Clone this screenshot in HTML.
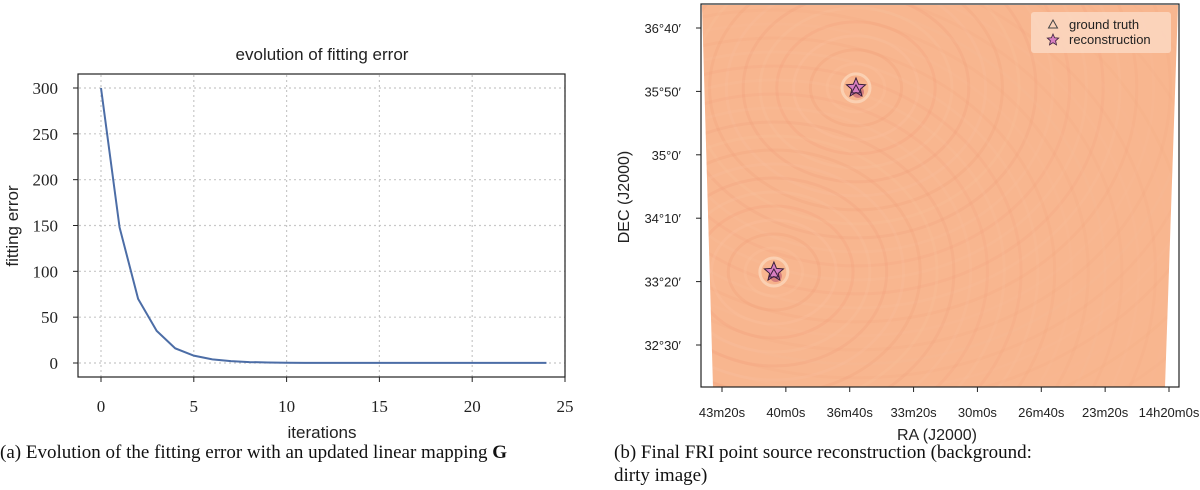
<!DOCTYPE html>
<html><head><meta charset="utf-8"><style>
html,body{margin:0;padding:0;background:#fff;overflow:hidden;width:1200px;height:490px;}
svg{display:block;}
</style></head><body>
<svg width="1200" height="490" xmlns="http://www.w3.org/2000/svg">
<defs>
<clipPath id="imgclip"><polygon points="702,5 1178,5 1165,387 713,387"/></clipPath>
</defs>
<g id="left"></g>
<g id="right"></g>
<text x="0" y="458" font-family="Liberation Serif, serif" font-size="19" fill="#111">(a) Evolution of the fitting error with an updated linear mapping <tspan font-weight="bold">G</tspan></text>
<text x="614" y="458" font-family="Liberation Serif, serif" font-size="19" fill="#111">(b) Final FRI point source reconstruction (background:</text>
<text x="614" y="481" font-family="Liberation Serif, serif" font-size="19" fill="#111">dirty image)</text>
</svg>
<script>
const NS='http://www.w3.org/2000/svg';
const iterations=[0,1,2,3,4,5,6,7,8,9,10,11,12,13,14,15,16,17,18,19,20,21,22,23,24];
const fitErr=[300,148,70,35,16,8,4,2,1,0.6,0.3,0.2,0.1,0.1,0.1,0.1,0.1,0.1,0.1,0.1,0.1,0.1,0.1,0.1,0.1];
const xTicks=[0,5,10,15,20,25];
const yTicks=[0,50,100,150,200,250,300];
const decTicks=["36°40′","35°50′","35°0′","34°10′","33°20′","32°30′"];
const raTicks=["43m20s","40m0s","36m40s","33m20s","30m0s","26m40s","23m20s","14h20m0s"];
const truthPts=[[0.3235,0.217],[0.151,0.699]];
const reconPts=[[0.3235,0.217],[0.151,0.699]];

function el(t,a,p){const e=document.createElementNS(NS,t);for(const k in a)e.setAttribute(k,a[k]);p.appendChild(e);return e;}
const L=document.getElementById('left');
const xs=v=>101+v*(565-101)/25;
const ys=v=>363-v*(363-88)/300;
for(const t of xTicks){const g=el('line',{x1:xs(t),x2:xs(t),y1:75,y2:377,stroke:'#c8c8c8','stroke-width':1.2,'stroke-dasharray':'2,3'},L);
}
for(const t of yTicks){const g=el('line',{x1:79,x2:565,y1:ys(t),y2:ys(t),stroke:'#c8c8c8','stroke-width':1.2,'stroke-dasharray':'2,3'},L);
}
const fr=el('rect',{x:78,y:74,width:487,height:303,fill:'none',stroke:'#222','stroke-width':1.2},L);

for(const t of xTicks){
const k=el('line',{x1:xs(t),x2:xs(t),y1:377,y2:382,stroke:'#222'},L);
const tx=el('text',{x:xs(t),y:412,'text-anchor':'middle','font-family':'Liberation Serif, serif','font-size':17,fill:'#222'},L);tx.textContent=t;
}
for(const t of yTicks){
const k=el('line',{x1:73,x2:78,y1:ys(t),y2:ys(t),stroke:'#222'},L);
const tx=el('text',{x:58,y:ys(t)+6,'text-anchor':'end','font-family':'Liberation Serif, serif','font-size':17,fill:'#222'},L);tx.textContent=t;
}
const line=el('polyline',{points:iterations.map((v,i)=>xs(v)+','+ys(fitErr[i])).join(' '),fill:'none',stroke:'#4c6da6','stroke-width':2},L);

let t1=el('text',{x:322,y:60,'text-anchor':'middle','font-family':'Liberation Sans, sans-serif','font-size':17,fill:'#222'},L);t1.textContent='evolution of fitting error';

let t2=el('text',{x:322,y:438,'text-anchor':'middle','font-family':'Liberation Sans, sans-serif','font-size':17,fill:'#222'},L);t2.textContent='iterations';

let t3=el('text',{x:18,y:226,'text-anchor':'middle','font-family':'Liberation Sans, sans-serif','font-size':17,fill:'#222',transform:'rotate(-90 18 226)'},L);t3.textContent='fitting error';


const R=document.getElementById('right');
const px=f=>702+f*(1178-702), py=f=>5+f*(387-5);
const img=el('g',{'clip-path':'url(#imgclip)'},R);

el('rect',{x:700,y:4,width:480,height:384,fill:'#f8b68f'},img);
reconPts.forEach(p=>{const cx=px(p[0]),cy=py(p[1]);for(let r=24;r<430;r+=14){
el('ellipse',{cx:cx,cy:cy,rx:r*1.2,ry:r,fill:'none',stroke:(Math.round(r/14))%2?'#f29c78':'#fac3a1','stroke-width':3,opacity:Math.max(0.05,0.3-r/1500)},img);}});
reconPts.forEach(p=>{const cx=px(p[0]),cy=py(p[1]);
el('circle',{cx:cx,cy:cy,r:14,fill:'none',stroke:'#fcdcc0','stroke-width':3,opacity:0.7},img);
el('circle',{cx:cx+2,cy:cy+4,r:6,fill:'#b8506e',opacity:0.55},img);});
const fr2=el('rect',{x:701,y:4,width:478,height:383,fill:'none',stroke:'#222','stroke-width':1.2},R);

decTicks.forEach((d,i)=>{const y=28+i*(345-28)/5;
const k=el('line',{x1:696,x2:701,y1:y,y2:y,stroke:'#222'},R);
const tx=el('text',{x:681,y:y+5,'text-anchor':'end','font-family':'Liberation Sans, sans-serif','font-size':13,fill:'#222'},R);tx.textContent=d;
});
raTicks.forEach((d,i)=>{const x=722+i*(1169-722)/7;
const k=el('line',{x1:x,x2:x,y1:387,y2:392,stroke:'#222'},R);
const tx=el('text',{x:x,y:417,'text-anchor':'middle','font-family':'Liberation Sans, sans-serif','font-size':13,fill:'#222'},R);tx.textContent=d;
});
let r1=el('text',{x:937,y:440,'text-anchor':'middle','font-family':'Liberation Sans, sans-serif','font-size':16,fill:'#222'},R);r1.textContent='RA (J2000)';

let r2=el('text',{x:629,y:197,'text-anchor':'middle','font-family':'Liberation Sans, sans-serif','font-size':16,fill:'#222',transform:'rotate(-90 629 197)'},R);r2.textContent='DEC (J2000)';

function star(cx,cy,r){let p=[];for(let i=0;i<10;i++){const a=-Math.PI/2+i*Math.PI/5,rr=i%2?r*0.45:r;p.push((cx+rr*Math.cos(a)).toFixed(1)+','+(cy+rr*Math.sin(a)).toFixed(1));}return p.join(' ');}
function tri(cx,cy,r){return `${cx},${cy-r} ${cx-r*0.9},${cy+r*0.6} ${cx+r*0.9},${cy+r*0.6}`;}
reconPts.forEach(p=>{const s=el('polygon',{points:star(px(p[0]),py(p[1]),10),fill:'#d77fc0',stroke:'#3a1f3a','stroke-width':1},R);
});
truthPts.forEach(p=>{const s=el('polygon',{points:tri(px(p[0]),py(p[1])+2,5),fill:'none',stroke:'#3a1f3a','stroke-width':1},R);
});
const lg=el('g',{},R);
el('rect',{x:1031,y:12,width:140,height:41,rx:3,fill:'#fbd8c2',opacity:0.85},lg);
el('polygon',{points:tri(1053,25,5),fill:'none',stroke:'#444','stroke-width':1},lg);
el('polygon',{points:star(1053,40,6),fill:'#d77fc0',stroke:'#3a1f3a','stroke-width':0.8},lg);
let l1=el('text',{x:1069,y:29,'font-family':'Liberation Sans, sans-serif','font-size':13,fill:'#222'},lg);l1.textContent='ground truth';

let l2=el('text',{x:1069,y:44,'font-family':'Liberation Sans, sans-serif','font-size':13,fill:'#222'},lg);l2.textContent='reconstruction';

</script>
</body></html>
